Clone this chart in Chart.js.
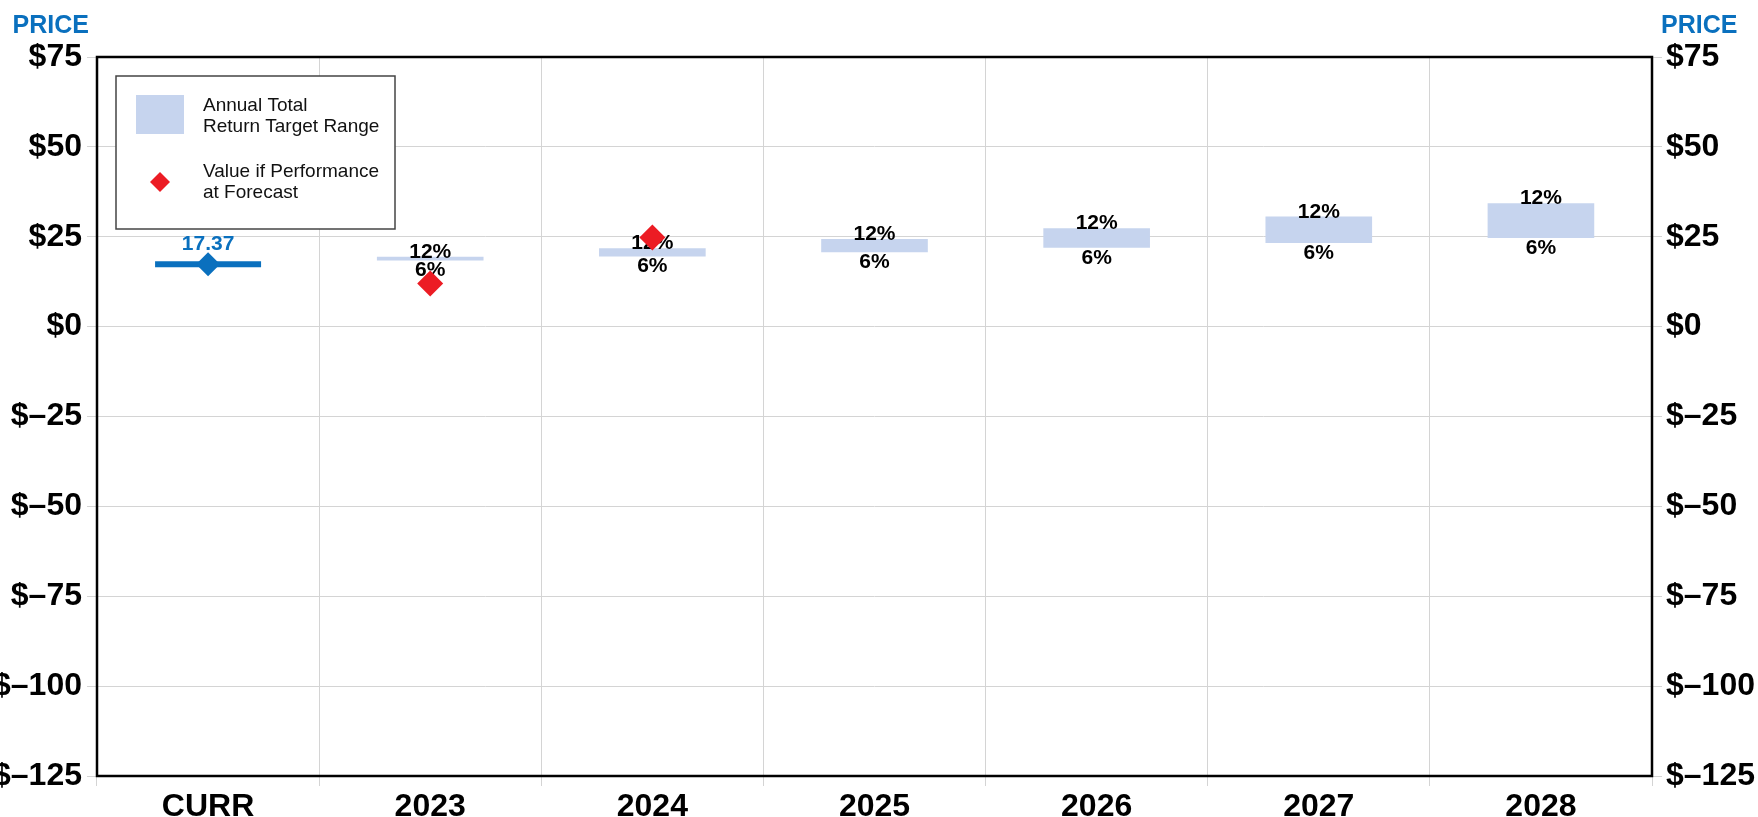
<!DOCTYPE html>
<html>
<head>
<meta charset="utf-8">
<script src="https://cdn.jsdelivr.net/npm/chart.js@4.4.0/dist/chart.umd.min.js"></script>
<style>
  body { margin: 0; background: #fff; }
  canvas { display: block; }
</style>
</head>
<body>
<canvas id="price-chart" width="1758" height="817"></canvas>
<script>
const categories = ['CURR', '2023', '2024', '2025', '2026', '2027', '2028'];
const current_price = [17.37, null, null, null, null, null, null];
const target_low = [null, 18.41, 19.52, 20.69, 21.93, 23.25, 24.64];
const target_high = [null, 19.45, 21.79, 24.40, 27.33, 30.61, 34.29];
const low_labels = ['', '6%', '6%', '6%', '6%', '6%', '6%'];
const high_labels = ['', '12%', '12%', '12%', '12%', '12%', '12%'];
const forecast_value = [null, 12.0, 24.8, null, null, null, null];
const price_ticks = [-125, -100, -75, -50, -25, 0, 25, 50, 75];

const BLUE = '#0a70be';
const RED = '#ec1c24';
const RANGE_FILL = '#c6d4ee';
const GRID = '#d4d4d4';
const FONT = '"Liberation Sans", Arial, Helvetica, sans-serif';

function price_label(v) {
  return v < 0 ? '$\u2013' + Math.abs(v) : '$' + v;
}

function set_price_ticks(axis) {
  axis.ticks = price_ticks.map(v => ({ value: v }));
}

function draw_diamond(ctx, x, y, r, color) {
  ctx.beginPath();
  ctx.moveTo(x, y - r);
  ctx.lineTo(x + r, y);
  ctx.lineTo(x, y + r);
  ctx.lineTo(x - r, y);
  ctx.closePath();
  ctx.fillStyle = color;
  ctx.fill();
}

// 12% / 6% labels go right after the range bars, so the forecast diamonds sit on top
const range_labels = {
  id: 'range_labels',
  afterDatasetDraw(chart, args) {
    if (args.index !== 0) return;
    const ctx = chart.ctx;
    ctx.save();
    ctx.font = 'bold 21px ' + FONT;
    ctx.fillStyle = '#000';
    ctx.textAlign = 'center';
    ctx.textBaseline = 'alphabetic';
    args.meta.data.forEach((bar, i) => {
      if (target_low[i] === null) return;
      const top = Math.min(bar.y, bar.base);
      const bottom = Math.max(bar.y, bar.base);
      ctx.fillText(high_labels[i], bar.x, top + 1);
      ctx.fillText(low_labels[i], bar.x, bottom + 16);
    });
    ctx.restore();
  }
};

const frame_and_legend = {
  id: 'frame_and_legend',
  afterDraw(chart) {
    const ctx = chart.ctx;
    const area = chart.chartArea;
    ctx.save();

    // current price value above the marker
    const pt = chart.getDatasetMeta(2).data[0];
    ctx.font = 'bold 21px ' + FONT;
    ctx.fillStyle = BLUE;
    ctx.textAlign = 'center';
    ctx.textBaseline = 'alphabetic';
    ctx.fillText(current_price[0].toFixed(2), pt.x, pt.y - 14);

    // plot frame
    ctx.strokeStyle = '#000';
    ctx.lineWidth = 2.5;
    ctx.strokeRect(area.left, area.top, area.right - area.left, area.bottom - area.top);

    // PRICE headers over both axes
    ctx.font = 'bold 25px ' + FONT;
    ctx.fillStyle = BLUE;
    ctx.textAlign = 'right';
    ctx.fillText('PRICE', area.left - 8, 33);
    ctx.textAlign = 'left';
    ctx.fillText('PRICE', area.right + 9, 33);

    // legend box
    const bx = area.left + 19;
    const by = area.top + 19;
    ctx.fillStyle = '#fff';
    ctx.fillRect(bx, by, 279, 153);
    ctx.strokeStyle = '#444';
    ctx.lineWidth = 1.5;
    ctx.strokeRect(bx, by, 279, 153);

    ctx.fillStyle = RANGE_FILL;
    ctx.fillRect(bx + 20, by + 19, 48, 39);
    draw_diamond(ctx, bx + 44, by + 106, 10, RED);

    ctx.font = '19px ' + FONT;
    ctx.fillStyle = '#111';
    ctx.textAlign = 'left';
    ctx.fillText('Annual Total', bx + 87, by + 35);
    ctx.fillText('Return Target Range', bx + 87, by + 56);
    ctx.fillText('Value if Performance', bx + 87, by + 101);
    ctx.fillText('at Forecast', bx + 87, by + 122);

    ctx.restore();
  }
};

const tick_font = { family: FONT, size: 32, weight: 'bold' };

new Chart(document.getElementById('price-chart').getContext('2d'), {
  type: 'bar',
  data: {
    labels: categories,
    datasets: [
      {
        label: 'Annual Total Return Target Range',
        data: target_low.map((lo, i) => lo === null ? null : [lo, target_high[i]]),
        backgroundColor: RANGE_FILL,
        borderWidth: 0,
        barPercentage: 0.48,
        categoryPercentage: 1,
        order: 4
      },
      {
        type: 'line',
        label: 'Current Price',
        data: current_price,
        showLine: false,
        pointStyle: 'line',
        pointRadius: 53,
        pointBorderWidth: 6,
        pointBorderColor: BLUE,
        order: 3
      },
      {
        type: 'line',
        label: 'Current Price Marker',
        data: current_price,
        showLine: false,
        pointStyle: 'rectRot',
        pointRadius: 12,
        pointBorderWidth: 0,
        pointBackgroundColor: BLUE,
        order: 2
      },
      {
        type: 'line',
        label: 'Value if Performance at Forecast',
        data: forecast_value,
        showLine: false,
        pointStyle: 'rectRot',
        pointRadius: 13,
        pointBorderWidth: 0,
        pointBackgroundColor: RED,
        order: 1
      }
    ]
  },
  options: {
    responsive: false,
    devicePixelRatio: 1,
    animation: false,
    events: [],
    layout: { autoPadding: false, padding: { top: 57, left: 0, right: 0, bottom: 0 } },
    plugins: {
      legend: { display: false },
      tooltip: { enabled: false }
    },
    scales: {
      x: {
        offset: true,
        afterFit(scale) { scale.height = 41; },
        grid: { color: GRID, tickLength: 10, offset: true },
        border: { display: false },
        ticks: { font: tick_font, color: '#000', padding: 2, maxRotation: 0 }
      },
      y: {
        position: 'left',
        min: -125,
        max: 75,
        afterBuildTicks: set_price_ticks,
        afterFit(scale) { scale.width = 97; },
        grid: { color: GRID, tickLength: 10 },
        border: { display: false },
        ticks: { font: tick_font, color: '#000', padding: 5, callback: price_label }
      },
      y2: {
        position: 'right',
        min: -125,
        max: 75,
        afterBuildTicks: set_price_ticks,
        afterFit(scale) { scale.width = 106; },
        grid: { color: GRID, tickLength: 10, drawOnChartArea: false },
        border: { display: false },
        ticks: { font: tick_font, color: '#000', padding: 4, callback: price_label }
      }
    }
  },
  plugins: [range_labels, frame_and_legend]
});
</script>
</body>
</html>
